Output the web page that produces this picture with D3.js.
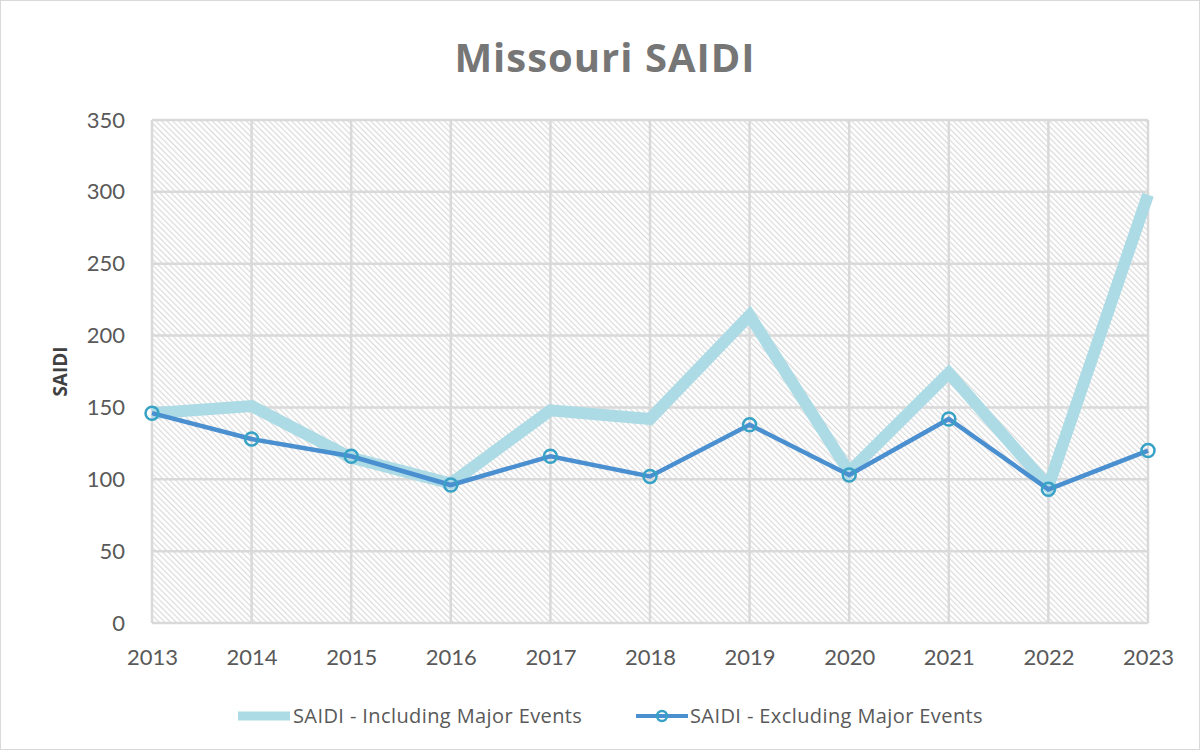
<!DOCTYPE html>
<html>
<head>
<meta charset="utf-8">
<script src="https://cdn.jsdelivr.net/npm/d3@7"></script>
<style>
  body { margin: 0; background: #fff; }
  svg { display: block; }
</style>
</head>
<body>
<div id="chart"></div>
<script>
// chart data
var years = ["2013","2014","2015","2016","2017","2018","2019","2020","2021","2022","2023"];
var saidiIncl = [146, 151, 115, 97, 148, 142, 214, 105, 174, 95, 298];
var saidiExcl = [146, 128, 116, 96, 116, 102, 138, 103, 142, 93, 120];
var yTicks = [0, 50, 100, 150, 200, 250, 300, 350];

var W = 1202, H = 752;
var margin = {top: 120, right: 54, bottom: 129, left: 152};

var svg = d3.select("#chart").append("svg")
	.attr("width", W)
	.attr("height", H);

// hatch fill for the plot area
var defs = svg.append("defs");
defs.append("pattern")
	.attr("id", "hatch")
	.attr("patternUnits", "userSpaceOnUse")
	.attr("width", 4).attr("height", 4)
	.attr("patternTransform", "rotate(-45)")
	.append("rect")
	.attr("x", 0).attr("y", 0)
	.attr("width", 1.2).attr("height", 4)
	.attr("fill", "#dadada");

svg.append("rect")
	.attr("x", 0.5).attr("y", 0.5)
	.attr("width", W - 3).attr("height", H - 3)
	.attr("fill", "#fff")
	.attr("stroke", "#d9d9d9");

var x = d3.scalePoint()
	.domain(years)
	.range([margin.left, W - margin.right]);

var y = d3.scaleLinear()
	.domain([0, 350])
	.range([H - margin.bottom, margin.top]);

svg.append("rect")
	.attr("x", margin.left).attr("y", margin.top)
	.attr("width", W - margin.right - margin.left)
	.attr("height", H - margin.bottom - margin.top)
	.attr("fill", "url(#hatch)");

// gridlines
svg.append("g")
	.selectAll("line")
	.data(yTicks)
	.enter().append("line")
	.attr("x1", margin.left).attr("x2", W - margin.right)
	.attr("y1", function(d) { return y(d); })
	.attr("y2", function(d) { return y(d); })
	.attr("stroke", "#d9d9d9")
	.attr("stroke-width", 2.5);

svg.append("g")
	.selectAll("line")
	.data(years)
	.enter().append("line")
	.attr("x1", function(d) { return x(d); })
	.attr("x2", function(d) { return x(d); })
	.attr("y1", margin.top).attr("y2", H - margin.bottom)
	.attr("stroke", "#d9d9d9")
	.attr("stroke-width", 2.5);

// axes (labels only)
var yAxis = svg.append("g")
	.attr("transform", "translate(" + (margin.left - 27) + ",0)")
	.call(d3.axisLeft(y).tickValues(yTicks).tickSize(0).tickPadding(0));

var xAxis = svg.append("g")
	.attr("transform", "translate(0," + (H - margin.bottom + 14) + ")")
	.call(d3.axisBottom(x).tickSize(0).tickPadding(12));

[yAxis, xAxis].forEach(function(a) {
	a.select(".domain").remove();
	a.selectAll("text")
		.attr("fill", "#595959")
		.style("font-family", "Lato, 'Open Sans', sans-serif")
		.style("font-size", "22px");
});

// lines
var lineIncl = d3.line()
	.x(function(d, i) { return x(years[i]); })
	.y(function(d) { return y(d); });

svg.append("path")
	.datum(saidiIncl)
	.attr("d", lineIncl)
	.attr("fill", "none")
	.attr("stroke", "#addbe5")
	.attr("stroke-width", 12)
	.attr("stroke-linejoin", "miter");

svg.append("path")
	.datum(saidiExcl)
	.attr("d", lineIncl)
	.attr("fill", "none")
	.attr("stroke", "#4a8fd0")
	.attr("stroke-width", 4.5);

svg.append("g")
	.selectAll("circle")
	.data(saidiExcl)
	.enter().append("circle")
	.attr("cx", function(d, i) { return x(years[i]); })
	.attr("cy", function(d) { return y(d); })
	.attr("r", 6.5)
	.attr("fill", "none")
	.attr("stroke", "#37a2c6")
	.attr("stroke-width", 2.5);

// title
svg.append("text")
	.attr("x", 605).attr("y", 72)
	.attr("text-anchor", "middle")
	.attr("fill", "#767676")
	.style("font-family", "'Open Sans', Lato, sans-serif")
	.style("font-weight", "bold")
	.style("font-size", "40px")
	.style("letter-spacing", "1px")
	.text("Missouri SAIDI");

svg.append("text")
	.attr("transform", "translate(67," + y(175) + ") rotate(-90)")
	.attr("text-anchor", "middle")
	.attr("fill", "#404040")
	.style("font-family", "'Open Sans', Lato, sans-serif")
	.style("font-weight", "bold")
	.style("font-size", "19px")
	.text("SAIDI");

// legend
var legend = svg.append("g").attr("transform", "translate(0,716)");
legend.append("line")
	.attr("x1", 238).attr("x2", 290).attr("y1", 0).attr("y2", 0)
	.attr("stroke", "#addbe5").attr("stroke-width", 9);
legend.append("text")
	.attr("x", 293).attr("y", 7)
	.attr("fill", "#595959")
	.style("font-family", "'Open Sans', sans-serif")
	.style("font-size", "20px")
	.style("letter-spacing", "0.4px")
	.text("SAIDI - Including Major Events");

legend.append("line")
	.attr("x1", 636).attr("x2", 688).attr("y1", 0).attr("y2", 0)
	.attr("stroke", "#4a8fd0").attr("stroke-width", 4);
legend.append("circle")
	.attr("cx", 662).attr("cy", 0).attr("r", 5)
	.attr("fill", "none").attr("stroke", "#37a2c6").attr("stroke-width", 2.5);
legend.append("text")
	.attr("x", 690).attr("y", 7)
	.attr("fill", "#595959")
	.style("font-family", "'Open Sans', sans-serif")
	.style("font-size", "20px")
	.style("letter-spacing", "0.4px")
	.text("SAIDI - Excluding Major Events");
</script>
</body>
</html>
